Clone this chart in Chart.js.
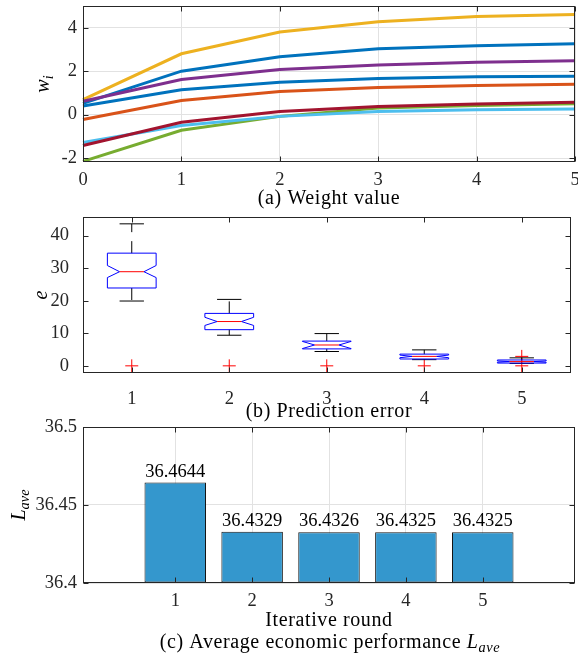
<!DOCTYPE html>
<html>
<head>
<meta charset="utf-8">
<script src="https://cdn.jsdelivr.net/npm/chart.js@4.4.0/dist/chart.umd.min.js"></script>
<style>
    body { margin: 0; background: #fff; }
    #wrap { position: relative; width: 578px; height: 655px; }
    #wrap canvas { position: absolute; left: 0; top: 0; }
</style>
</head>
<body>
<div id="wrap">
    <canvas id="weight-chart" width="578" height="655"></canvas>
    <canvas id="error-chart" width="578" height="655"></canvas>
    <canvas id="perf-chart" width="578" height="655"></canvas>
</div>
<script>
// (a) weight of each feature per iterative round
const rounds = [0, 1, 2, 3, 4, 5];
const wBlue    = [0.52, 2.00, 2.66, 3.03, 3.17, 3.26];
const wOrange  = [-0.22, 0.65, 1.06, 1.25, 1.34, 1.40];
const wYellow  = [0.69, 2.80, 3.80, 4.28, 4.52, 4.61];
const wPurple  = [0.62, 1.62, 2.08, 2.29, 2.41, 2.48];
const wGreen   = [-2.15, -0.72, -0.08, 0.30, 0.42, 0.50];
const wCyan    = [-1.28, -0.50, -0.08, 0.14, 0.23, 0.26];
const wDarkRed = [-1.42, -0.35, 0.14, 0.38, 0.49, 0.57];
const wBlue2   = [0.40, 1.15, 1.49, 1.66, 1.74, 1.77];
const weightTicks = [-2, 0, 2, 4];

// (b) prediction error box plot stats
const groups   = [1, 2, 3, 4, 5];
const whiskLo  = [19.9, 9.4, 4.4, 1.9, 0.75];
const boxQ1    = [23.9, 11.1, 5.2, 2.1, 0.85];
const boxMed   = [28.9, 13.6, 6.4, 2.9, 1.3];
const boxQ3    = [34.6, 16.1, 7.6, 3.6, 1.8];
const whiskHi  = [43.6, 20.4, 9.9, 4.9, 2.45];
const notchLo  = [27.1, 12.4, 5.3, 2.5, 1.1];
const notchHi  = [30.8, 14.9, 7.5, 3.3, 1.5];
const outlierX = [1, 2, 3, 4, 5, 5];
const outlierY = [0, 0, 0, 0, 0, 2.9];
const errorTicks = [0, 10, 20, 30, 40];

// (c) average economic performance
const iterRounds = [1, 2, 3, 4, 5];
const lAve = [36.4644, 36.4329, 36.4326, 36.4325, 36.4325];
const perfTicks = [36.4, 36.45, 36.5];

const FONT = "'Liberation Serif', 'Times New Roman', serif";
const AXIS_COLOR = '#262626';
const GRID_COLOR = '#e2e2e2';
const FS = 18.5;     // tick and value labels
const TS = 20;       // titles and axis labels

// draws a run of plain / italic / subscript pieces centred on (x, y)
function drawRich(ctx, parts, x, y, size, angle, spacing) {
    ctx.save();
    ctx.translate(x, y);
    ctx.rotate(angle || 0);
    ctx.letterSpacing = (spacing || 0) + 'px';
    const fonts = parts.map(p => (p.it ? 'italic ' : '') + (p.sub ? size * 0.72 : size) + 'px ' + FONT);
    let total = 0;
    const widths = parts.map((p, i) => {
        ctx.font = fonts[i];
        const w = ctx.measureText(p.t).width;
        total += w;
        return w;
    });
    let cx = -total / 2;
    ctx.fillStyle = '#000';
    ctx.textAlign = 'left';
    ctx.textBaseline = 'alphabetic';
    parts.forEach((p, i) => {
        ctx.font = fonts[i];
        ctx.fillText(p.t, cx, size * 0.3 + (p.sub ? size * 0.22 : 0));
        cx += widths[i];
    });
    ctx.restore();
}

function line(ctx, x1, y1, x2, y2) {
    ctx.beginPath();
    ctx.moveTo(x1, y1);
    ctx.lineTo(x2, y2);
    ctx.stroke();
}

// box frame with inward ticks on all four sides, plus the text labels
const framePlugin = {
    id: 'frame',
    afterDraw(chart, args, opts) {
        const ctx = chart.ctx;
        const a = chart.chartArea;
        const x = chart.scales.x, y = chart.scales.y;
        ctx.save();
        ctx.strokeStyle = AXIS_COLOR;
        ctx.lineWidth = 1;
        const L = Math.round(a.left) + 0.5, R = Math.round(a.right) - 0.5;
        const T = Math.round(a.top) + 0.5, B = Math.round(a.bottom) - 0.5;
        ctx.strokeRect(L, T, R - L, B - T);
        const len = 5;
        x.ticks.forEach(t => {
            const px = Math.round(x.getPixelForValue(t.value)) + 0.5;
            line(ctx, px, B, px, B - len);
            line(ctx, px, T, px, T + len);
        });
        y.ticks.forEach(t => {
            const py = Math.round(y.getPixelForValue(t.value)) + 0.5;
            line(ctx, L, py, L + len, py);
            line(ctx, R, py, R - len, py);
        });
        ctx.restore();
        (opts.texts || []).forEach(tx => drawRich(ctx, tx.parts, tx.x, tx.y, tx.size || TS, tx.angle, tx.angle ? 0 : 0.6));
    }
};

// pin the plot rectangle so all three panels line up
function pinnedScales(xHeight) {
    return {
        y: s => { s.width = 83; s.paddingTop = 0; s.paddingBottom = 0; },
        x: s => { s.height = xHeight; s.paddingLeft = 0; s.paddingRight = 0; }
    };
}

function tickFont() {
    return { family: FONT, size: FS };
}

function setupWeightChart() {
    const ctx = document.getElementById('weight-chart').getContext('2d');
    const series = [
        [wBlue, '#0072BD'], [wOrange, '#D95319'], [wYellow, '#EDB120'], [wPurple, '#7E2F8E'],
        [wGreen, '#77AC30'], [wCyan, '#4DBEEE'], [wDarkRed, '#A2142F'], [wBlue2, '#0072BD']
    ];
    const pin = pinnedScales(655 - 162);
    return new Chart(ctx, {
        type: 'line',
        data: {
            labels: rounds,
            datasets: series.map((s, i) => ({
                data: s[0],
                borderColor: s[1],
                borderWidth: 3,
                pointRadius: 0,
                tension: 0,
                order: series.length - i
            }))
        },
        options: {
            responsive: false,
            animation: false,
            layout: { padding: { top: 6, right: 3, left: 0, bottom: 0 } },
            plugins: {
                legend: { display: false },
                tooltip: { enabled: false },
                frame: {
                    texts: [
                        { parts: [{ t: 'w', it: true }, { t: 'i', it: true, sub: true }], x: 43, y: 84, angle: -Math.PI / 2 },
                        { parts: [{ t: '(a) Weight value' }], x: 329, y: 198 }
                    ]
                }
            },
            scales: {
                x: {
                    type: 'category',
                    offset: false,
                    grid: { color: GRID_COLOR, drawTicks: false },
                    border: { display: false },
                    ticks: { font: tickFont(), color: AXIS_COLOR, padding: 7, maxRotation: 0 },
                    afterFit: pin.x
                },
                y: {
                    min: -2.18,
                    max: 5,
                    grid: { color: GRID_COLOR, drawTicks: false },
                    border: { display: false },
                    ticks: { font: tickFont(), color: AXIS_COLOR, padding: 6 },
                    afterBuildTicks: s => { s.ticks = weightTicks.map(v => ({ value: v })); },
                    afterFit: pin.y
                }
            }
        },
        plugins: [framePlugin]
    });
}

// notched boxes and whiskers, drawn through the chart's scales
const boxPlugin = {
    id: 'boxes',
    afterDatasetsDraw(chart) {
        const ctx = chart.ctx;
        const x = chart.scales.x, y = chart.scales.y;
        ctx.save();
        ctx.lineWidth = 1;
        groups.forEach((g, i) => {
            const cx = x.getPixelForValue(g);
            const half = x.getPixelForValue(g + 0.25) - cx;
            const inset = half * 0.5;
            const l = cx - half, r = cx + half;
            const yq1 = y.getPixelForValue(boxQ1[i]), yq3 = y.getPixelForValue(boxQ3[i]);
            const ym = y.getPixelForValue(boxMed[i]);
            const yn1 = y.getPixelForValue(notchLo[i]), yn2 = y.getPixelForValue(notchHi[i]);
            const ywl = y.getPixelForValue(whiskLo[i]), ywh = y.getPixelForValue(whiskHi[i]);

            // whiskers
            ctx.strokeStyle = '#000';
            ctx.setLineDash([12, 9]);
            line(ctx, cx, yq3, cx, ywh);
            line(ctx, cx, yq1, cx, ywl);
            ctx.setLineDash([]);
            line(ctx, cx - half / 2, ywh, cx + half / 2, ywh);
            line(ctx, cx - half / 2, ywl, cx + half / 2, ywl);

            // notched box
            ctx.strokeStyle = '#0000FF';
            ctx.beginPath();
            ctx.moveTo(l, yq1);
            ctx.lineTo(l, yn1);
            ctx.lineTo(l + inset, ym);
            ctx.lineTo(l, yn2);
            ctx.lineTo(l, yq3);
            ctx.lineTo(r, yq3);
            ctx.lineTo(r, yn2);
            ctx.lineTo(r - inset, ym);
            ctx.lineTo(r, yn1);
            ctx.lineTo(r, yq1);
            ctx.closePath();
            ctx.stroke();

            // median
            ctx.strokeStyle = '#FF0000';
            line(ctx, l + inset, ym, r - inset, ym);
        });
        ctx.restore();
    }
};

function setupErrorChart() {
    const ctx = document.getElementById('error-chart').getContext('2d');
    const pin = pinnedScales(655 - 373);
    return new Chart(ctx, {
        type: 'scatter',
        data: {
            datasets: [{
                data: outlierX.map((v, i) => ({ x: v, y: outlierY[i] })),
                pointStyle: 'cross',
                pointRadius: 6.5,
                borderColor: '#FF0000',
                borderWidth: 1
            }]
        },
        options: {
            responsive: false,
            animation: false,
            layout: { padding: { top: 217, right: 3, left: 0, bottom: 0 } },
            plugins: {
                legend: { display: false },
                tooltip: { enabled: false },
                frame: {
                    texts: [
                        { parts: [{ t: 'e', it: true }], x: 41, y: 295, angle: -Math.PI / 2 },
                        { parts: [{ t: '(b) Prediction error' }], x: 329, y: 411 }
                    ]
                }
            },
            scales: {
                x: {
                    type: 'linear',
                    min: 0.5,
                    max: 5.5,
                    grid: { display: false },
                    border: { display: false },
                    ticks: { font: tickFont(), color: AXIS_COLOR, padding: 7, maxRotation: 0 },
                    afterBuildTicks: s => { s.ticks = groups.map(v => ({ value: v })); },
                    afterFit: pin.x
                },
                y: {
                    min: -2.2,
                    max: 45.7,
                    grid: { display: false },
                    border: { display: false },
                    ticks: { font: tickFont(), color: AXIS_COLOR, padding: 6 },
                    afterBuildTicks: s => { s.ticks = errorTicks.map(v => ({ value: v })); },
                    afterFit: pin.y
                }
            }
        },
        plugins: [boxPlugin, framePlugin]
    });
}

// value printed above each bar
const barLabelPlugin = {
    id: 'barLabels',
    afterDatasetsDraw(chart) {
        const ctx = chart.ctx;
        const meta = chart.getDatasetMeta(0);
        ctx.save();
        ctx.font = FS + 'px ' + FONT;
        ctx.fillStyle = '#000';
        ctx.textAlign = 'center';
        ctx.textBaseline = 'alphabetic';
        meta.data.forEach((bar, i) => {
            ctx.fillText(lAve[i].toFixed(4), bar.x, bar.y - 6);
        });
        ctx.restore();
    }
};

function setupPerfChart() {
    const ctx = document.getElementById('perf-chart').getContext('2d');
    const pin = pinnedScales(655 - 583);
    return new Chart(ctx, {
        type: 'bar',
        data: {
            datasets: [{
                data: iterRounds.map((v, i) => ({ x: v, y: lAve[i] })),
                base: perfTicks[0],
                backgroundColor: '#3497CD',
                borderColor: '#141414',
                borderWidth: 1,
                borderSkipped: false,
                barPercentage: 0.8,
                categoryPercentage: 1
            }]
        },
        options: {
            responsive: false,
            animation: false,
            layout: { padding: { top: 427, right: 3, left: 0, bottom: 0 } },
            plugins: {
                legend: { display: false },
                tooltip: { enabled: false },
                frame: {
                    texts: [
                        { parts: [{ t: 'L', it: true }, { t: 'ave', it: true, sub: true }], x: 19, y: 505, angle: -Math.PI / 2 },
                        { parts: [{ t: 'Iterative round' }], x: 329, y: 620 },
                        { parts: [{ t: '(c) Average economic performance ' }, { t: 'L', it: true }, { t: 'ave', it: true, sub: true }], x: 330, y: 642 }
                    ]
                }
            },
            scales: {
                x: {
                    type: 'linear',
                    offset: false,
                    min: -0.2,
                    max: 6.2,
                    grid: { color: GRID_COLOR, drawTicks: false, offset: false },
                    border: { display: false },
                    ticks: { font: tickFont(), color: AXIS_COLOR, padding: 7, maxRotation: 0 },
                    afterBuildTicks: s => { s.ticks = iterRounds.map(v => ({ value: v })); },
                    afterFit: pin.x
                },
                y: {
                    min: perfTicks[0],
                    max: perfTicks[perfTicks.length - 1],
                    grid: { color: GRID_COLOR, drawTicks: false },
                    border: { display: false },
                    ticks: { font: tickFont(), color: AXIS_COLOR, padding: 6, callback: v => String(v) },
                    afterBuildTicks: s => { s.ticks = perfTicks.map(v => ({ value: v })); },
                    afterFit: pin.y
                }
            }
        },
        plugins: [barLabelPlugin, framePlugin]
    });
}

const weightChart = setupWeightChart();
const errorChart = setupErrorChart();
const perfChart = setupPerfChart();
</script>
</body>
</html>
